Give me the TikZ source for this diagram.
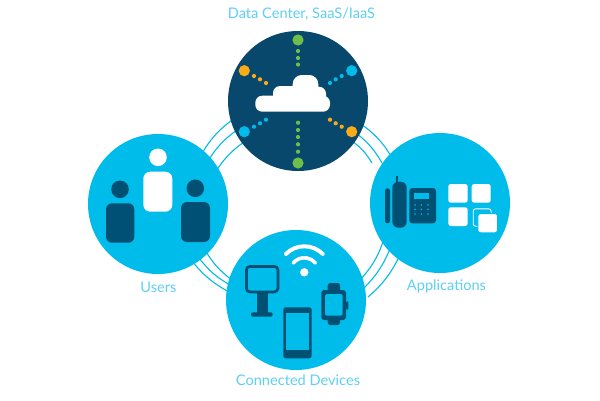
\documentclass[tikz,border=0pt]{standalone}
\usepackage{fontspec}
\setmainfont{Lato}
\definecolor{sky}{HTML}{00BCEB}
\definecolor{navy}{HTML}{07486C}
\definecolor{icon}{HTML}{005073}
\definecolor{lab}{HTML}{5FD0F2}
\definecolor{grn}{HTML}{6EBE4A}
\definecolor{org}{HTML}{FBAB18}
\tikzset{
  hub/.style={circle,minimum size=140pt,inner sep=0pt,outer sep=0pt,fill=sky},
  ring/.style={draw=sky,line width=1.1pt,bend left=11},
  lab/.style={text=lab,font=\fontsize{14.6}{16}\selectfont,inner sep=0pt},
}
\newcommand{\spot}[4]{\fill[#1] (#2,#3) circle (#4);}
\begin{document}
\begin{tikzpicture}[x=1pt,y=-1pt]
\useasboundingbox[fill=white] (0,0) rectangle (600,400);
% rings
\draw[ring] (201,155) to (232,120);
\draw[ring] (208,161) to (237,130);
\draw[ring] (216,171) to (247,140);
\draw[ring] (361,124) to (391,156);
\draw[ring] (356,133) to (382,163);
\draw[ring] (352,141) to (372,163);
\draw[ring] (383,242) to (360,280);
\draw[ring] (390,249) to (362,290);
\draw[ring] (399,257) to (368,297);
\draw[ring] (229,292) to (192,261);
\draw[ring] (230,285) to (199,258);
\draw[ring] (232,280) to (205,250);
% hubs
\node[hub,fill=navy] (dc) at (298,101) {};
\node[hub] (users) at (158,204) {};
\node[hub] (apps) at (440,203) {};
\node[hub] (dev) at (296,300) {};
% labels
\node[lab] (l1) at (301.5,14) {Data Center, SaaS/IaaS};
\node[lab] (l2) at (158.5,287) {Users};
\node[lab] (l3) at (446.5,286) {Applications};
\node[lab] (l4) at (298,380.5) {Connected Devices};
% data centre spots
\spot{grn}{298}{40}{5.6}\spot{grn}{298}{163}{5.6}
\foreach \y in {51,58,64.5,122.7,130,137,144.3,151.7} {\spot{grn}{298}{\y}{2.1}}
\spot{org}{244.3}{70.7}{5.6}\spot{org}{351.7}{131.7}{5.6}
\spot{sky}{351.7}{70.7}{5.6}\spot{sky}{244.3}{131.7}{5.6}
\foreach \x/\y in {254/76,260/79.3,266/83,330/119.7,335.7/123.3,341.7/126.7} {\spot{org}{\x}{\y}{2.1}}
\foreach \x/\y in {341.7/76,335.7/79.3,330/83,266/119.7,260/123.3,254/126.7} {\spot{sky}{\x}{\y}{2.1}}
% cloud
\fill[white,rounded corners=7] (255.3,95.7) rectangle (330,111.7);
\fill[white,rounded corners=7] (273,86) rectangle (300,104);
\fill[white,rounded corners=9] (292.7,75) rectangle (318.3,104);
\fill[white,rounded corners=7] (305,86.7) rectangle (326,104);
% users
\spot{white}{158}{157.3}{8.8}
\fill[white,rounded corners=7] (143.3,171.7) rectangle (172.3,211.7);
\spot{icon}{120}{189.3}{8.8}
\fill[icon,rounded corners=6] (106,203.3) rectangle (134.3,242.7);
\spot{icon}{195.3}{188.3}{8.8}
\fill[icon,rounded corners=6] (181,202) rectangle (210,242);
% phone
\fill[icon,rounded corners=2.4] (385,188.3) rectangle (390,223.3);
\fill[icon,rounded corners=6] (392.3,181.7) rectangle (406.7,227.7);
\fill[icon] (396,175.7) rectangle (398.3,183);
\fill[icon,rounded corners=3] (409.3,188) rectangle (436,223.3);
\fill[sky] (414,193.3) rectangle (429.3,199);
\foreach \x in {415,421.3,428} \foreach \y in {205,209.3,214} {\spot{sky}{\x}{\y}{0.9}}
% app squares
\fill[white,rounded corners=2.5] (448.3,184) rectangle (467.7,202.7);
\fill[white,rounded corners=2.5] (471.7,184) rectangle (490.7,202.7);
\fill[white,rounded corners=2.5] (448.3,207.3) rectangle (467.7,226);
\draw[white,line width=0.9pt,rounded corners=2.5] (473.2,208.8) rectangle (491.2,226.2);
\filldraw[fill=white,draw=sky,line width=1pt,rounded corners=2.5] (477.8,213.5) rectangle (497.5,232.8);
% devices: wifi
\spot{white}{304.3}{272.3}{4.2}
\draw[white,line width=4pt,line cap=round] (304.3,272.3) ++(225:26) arc[start angle=225,end angle=315,radius=26];
\draw[white,line width=3.6pt,line cap=round] (304.3,272.3) ++(220:14.5) arc[start angle=220,end angle=320,radius=14.5];
% kiosk
\draw[icon,line width=2.7pt,rounded corners=3.5] (246.4,266.4) rectangle (277.9,291.9);
\fill[icon] (256.7,293) rectangle (267.7,313);
\fill[icon,rounded corners=2] (251,312.3) rectangle (272.7,316.7);
% handset
\fill[icon,rounded corners=2.5] (283.3,307.3) rectangle (311.7,358.3);
\fill[sky] (286,312.7) rectangle (309.3,350);
% watch
\fill[icon,rounded corners=2.5] (327.7,283) rectangle (340,325);
\fill[icon,rounded corners=1.5] (346,301) rectangle (348.3,310);
\fill[icon,rounded corners=3] (321.3,290) rectangle (346,320);
\fill[sky,rounded corners=1.5] (325,294) rectangle (342.7,315.7);
\end{tikzpicture}
\end{document}
